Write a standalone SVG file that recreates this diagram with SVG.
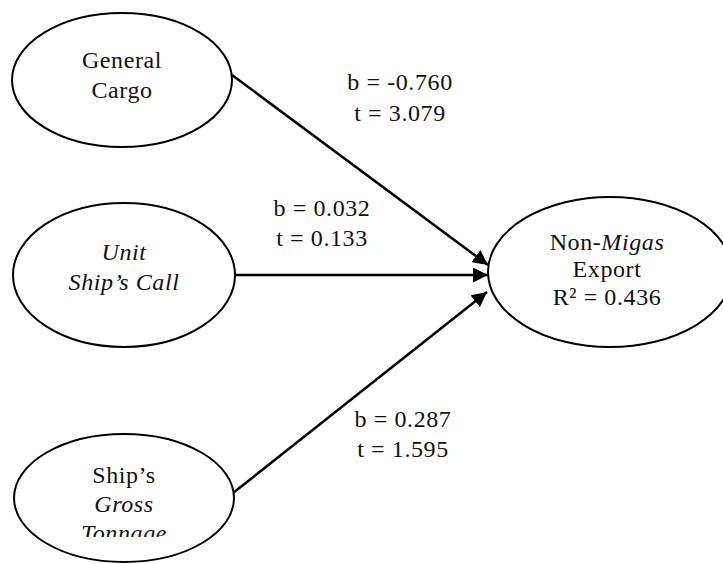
<svg xmlns="http://www.w3.org/2000/svg" width="723" height="564" viewBox="0 0 723 564">
<style>
.n{fill:#fff;stroke:#000;stroke-width:2}
.t{font-family:"Liberation Serif","Times New Roman",serif;font-size:24px;fill:#111;text-anchor:middle;letter-spacing:0.6px}
.i{font-style:italic}
.c{stroke:#000;stroke-width:2.5;fill:none;marker-end:url(#ah)}
</style>
<defs>
<marker id="ah" viewBox="0 0 10 10" refX="10" refY="5" markerWidth="6" markerHeight="6" markerUnits="strokeWidth" orient="auto">
<path d="M0,0 L10,5 L0,10 z" fill="#000"/>
</marker>
<clipPath id="cl3"><rect x="0" y="420" width="300" height="117"/></clipPath>
</defs>
<g id="connectors">
<line class="c" x1="232" y1="75" x2="488" y2="265"/>
<line class="c" x1="235" y1="275" x2="488" y2="275"/>
<line class="c" x1="233" y1="493" x2="487" y2="292"/>
</g>
<g id="labels">
<text class="t" x="400" y="90">b = -0.760</text>
<text class="t" x="400" y="121">t = 3.079</text>
<text class="t" x="322" y="216">b = 0.032</text>
<text class="t" x="322" y="246">t = 0.133</text>
<text class="t" x="403" y="427">b = 0.287</text>
<text class="t" x="403" y="457">t = 1.595</text>
</g>
<g id="general-cargo">
<ellipse class="n" cx="122" cy="80" rx="110" ry="67"/>
<text class="t" x="122" y="68">General</text>
<text class="t" x="122" y="98">Cargo</text>
</g>
<g id="unit-ships-call">
<ellipse class="n" cx="124" cy="275" rx="111" ry="72"/>
<text class="t i" x="124" y="260">Unit</text>
<text class="t i" x="124" y="290">Ship’s Call</text>
</g>
<g id="ships-gross-tonnage">
<ellipse class="n" cx="124" cy="498" rx="110" ry="64"/>
<g clip-path="url(#cl3)">
<text class="t" x="124" y="483">Ship’s</text>
<text class="t i" x="124" y="512">Gross</text>
<text class="t i" x="124" y="541">Tonnage</text>
</g>
</g>
<g id="non-migas-export">
<ellipse class="n" cx="610" cy="272" rx="122" ry="75"/>
<text class="t" x="607" y="250">Non-<tspan class="i">Migas</tspan></text>
<text class="t" x="607" y="277">Export</text>
<text class="t" x="607" y="305">R² = 0.436</text>
</g>
</svg>
